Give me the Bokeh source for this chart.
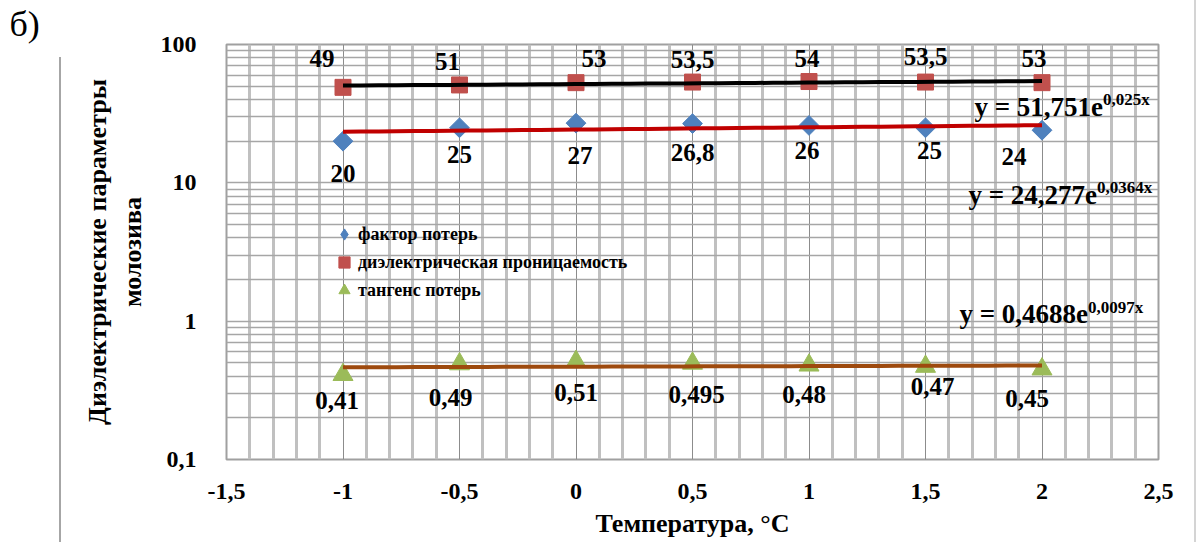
import numpy as np
from bokeh.plotting import figure
from bokeh.models import (ColumnDataSource, FixedTicker, Label, Legend, LegendItem, Range1d)
from bokeh.core.properties import value
from bokeh.embed import file_html
from bokeh.resources import INLINE

# ---------------- data ----------------
temperature = [-1, -0.5, 0, 0.5, 1, 1.5, 2]
loss_factor = [20, 25, 27, 26.8, 26, 25, 24]
permittivity = [49, 51, 53, 53.5, 54, 53.5, 53]
loss_tangent = [0.41, 0.49, 0.51, 0.495, 0.48, 0.47, 0.45]

loss_factor_labels = ["20", "25", "27", "26,8", "26", "25", "24"]
permittivity_labels = ["49", "51", "53", "53,5", "54", "53,5", "53"]
loss_tangent_labels = ["0,41", "0,49", "0,51", "0,495", "0,48", "0,47", "0,45"]

# exponential trend lines y = a * e^(b x)
permittivity_trend = (51.751, 0.025)
loss_factor_trend = (24.277, 0.0364)
loss_tangent_trend = (0.4688, 0.0097)
permittivity_eq = ("y = 51,751e", "0,025x")
loss_factor_eq = ("y = 24,277e", "0,0364x")
loss_tangent_eq = ("y = 0,4688e", "0,0097x")

x_ticks = [-1.5, -1, -0.5, 0, 0.5, 1, 1.5, 2, 2.5]
x_tick_labels = ["-1,5", "-1", "-0,5", "0", "0,5", "1", "1,5", "2", "2,5"]
y_ticks = [0.1, 1, 10, 100]
y_tick_labels = ["0,1", "1", "10", "100"]

series_names = ["фактор потерь", "диэлектрическая проницаемость", "тангенс потерь"]

# label pixel offsets (styling)
perm_dx = [-21, -12, 18, 0, -2, 0, -8]
perm_dy = [-29, -23, -24, -23, -23, -26, -24]
fac_dx = [0, 0, 4, 0, -2, 4, -28]
fac_dy = [32, 27, 32, 29, 25, 23, 26]
tan_dx = [-6, -9, 0, 4, -5, 7, -15]
tan_dy = [26, 33, 31, 31, 29, 20, 29]

FONT = value("Liberation Serif")
BLUE, RED, GREEN = "#4F81BD", "#C0504D", "#9BBB59"

p = figure(width=1197, height=542, x_range=Range1d(-1.5, 2.5), y_range=Range1d(0.1, 100),
           y_axis_type="log", output_backend="svg", toolbar_location=None,
           min_border_left=226, min_border_right=39, min_border_top=44, min_border_bottom=83)
p.background_fill_color = "white"
p.border_fill_color = None
p.outline_line_color = "#A0A0A0"
p.outline_line_width = 2
# page-frame rules of the source document (decorative, via CSS background)
p.styles = {
    "background-image": "linear-gradient(#A6A6A6, #A6A6A6), linear-gradient(#D4D4D4, #D4D4D4)",
    "background-size": "2px 485px, 2px 542px",
    "background-position": "59px 57px, 1194px 0px",
    "background-repeat": "no-repeat",
}

# panel label as title
p.title.text = "б)"
p.title.align = "left"
p.title.offset = -217
p.title.standoff = 1
p.title.text_font = "Liberation Serif"
p.title.text_font_style = "normal"
p.title.text_font_size = "36px"
p.title.text_color = "black"

# grids
x_minor = [round(-1.5 + 0.1 * i, 2) for i in range(41)]
x_minor = [v for v in x_minor if round(v * 2, 6) != round(v * 2)]
p.xgrid.ticker = FixedTicker(ticks=x_ticks, minor_ticks=x_minor)
p.xgrid.grid_line_color = "#8C8C8C"
p.xgrid.grid_line_width = 1
p.xgrid.minor_grid_line_color = "#C0C0C0"
p.xgrid.minor_grid_line_width = 3
y_minor = [m * 10.0 ** e for e in (-1, 0, 1) for m in range(2, 10)]
p.ygrid.ticker = FixedTicker(ticks=y_ticks, minor_ticks=y_minor)
p.ygrid.grid_line_color = "#A6A6A6"
p.ygrid.grid_line_width = 1.5
p.ygrid.minor_grid_line_color = "#A6A6A6"
p.ygrid.minor_grid_line_width = 1.5

# axes
p.xaxis.ticker = FixedTicker(ticks=x_ticks)
p.xaxis.major_label_overrides = dict(zip(x_ticks, x_tick_labels))
p.yaxis.ticker = FixedTicker(ticks=y_ticks)
p.yaxis.major_label_overrides = dict(zip(y_ticks, y_tick_labels))
for ax in (p.xaxis, p.yaxis):
    ax.axis_line_color = None
    ax.major_tick_line_color = None
    ax.minor_tick_line_color = None
    ax.major_label_text_font = "Liberation Serif"
    ax.major_label_text_font_style = "bold"
    ax.major_label_text_font_size = "24px"
    ax.major_label_text_color = "black"
    ax.axis_label_text_font = "Liberation Serif"
    ax.axis_label_text_font_style = "bold"
    ax.axis_label_text_font_size = "26px"
    ax.axis_label_text_color = "black"
p.xaxis.major_label_standoff = 18
p.yaxis.major_label_standoff = 24
p.xaxis.axis_label = "Температура, °C"
p.xaxis.axis_label_standoff = 7
p.yaxis.axis_label = "Диэлектрические параметры\nмолозива"
p.yaxis.axis_label_standoff = 11

# markers
r_fac = p.scatter(temperature, loss_factor, marker="square", angle=np.pi / 4, size=14,
                  fill_color=BLUE, line_color=BLUE)
r_perm = p.scatter(temperature, permittivity, marker="square", size=16,
                   fill_color=RED, line_color=RED)
r_tan = p.scatter(temperature, loss_tangent, marker="triangle", size=20,
                  fill_color=GREEN, line_color=GREEN)
# legend swatch for the diamond series (no data points of its own)
r_fac_key = p.scatter([np.nan], [np.nan], marker="diamond", size=14,
                      fill_color=BLUE, line_color=BLUE)

# trend lines
xt = np.linspace(min(temperature), max(temperature), 40)
for (a, b), col in ((permittivity_trend, "black"), (loss_factor_trend, "#C00000"),
                    (loss_tangent_trend, "#9E4A0E")):
    p.line(xt, a * np.exp(b * xt), line_color=col, line_width=4)

# data labels
def add_labels(ys, texts, dx, dy):
    src = ColumnDataSource(dict(x=temperature, y=ys, t=texts, dx=dx, dy=dy))
    p.text(x="x", y="y", text="t", x_offset="dx", y_offset="dy", source=src,
           text_align="center", text_baseline="middle", text_font=FONT,
           text_font_style="bold", text_font_size="25px", text_color="black")

add_labels(permittivity, permittivity_labels, perm_dx, perm_dy)
add_labels(loss_factor, loss_factor_labels, fac_dx, fac_dy)
add_labels(loss_tangent, loss_tangent_labels, tan_dx, tan_dy)

# pixel -> data helpers for annotation placement
def dx_(px):
    return -1.5 + (px - 226.5) / 233.0

def dy_(py):
    return 10 ** ((459 - py) / 138.33 - 1)

for (main, sup), jx, my, sy in ((permittivity_eq, 1103, 107, 99),
                                (loss_factor_eq, 1097, 195, 187),
                                (loss_tangent_eq, 1088, 314, 307)):
    p.add_layout(Label(x=dx_(jx), y=dy_(my), text=main, text_align="right",
                       text_baseline="middle", text_font="Liberation Serif",
                       text_font_style="bold", text_font_size="27px", text_color="black"))
    p.add_layout(Label(x=dx_(jx), y=dy_(sy), text=sup, text_align="left",
                       text_baseline="middle", text_font="Liberation Serif",
                       text_font_style="bold", text_font_size="17px", text_color="black"))

# legend
legend = Legend(items=[LegendItem(label=series_names[0], renderers=[r_fac_key]),
                       LegendItem(label=series_names[1], renderers=[r_perm]),
                       LegendItem(label=series_names[2], renderers=[r_tan])],
                location=(104, 155), orientation="vertical")
legend.background_fill_alpha = 0
legend.border_line_alpha = 0
legend.padding = 0
legend.margin = 0
legend.spacing = 0
legend.glyph_width = 28
legend.glyph_height = 28
legend.label_standoff = -5
legend.label_text_font = "Liberation Serif"
legend.label_text_font_style = "bold"
legend.label_text_font_size = "18px"
legend.label_text_color = "black"
p.add_layout(legend)

open("out.html", "w").write(file_html(p, INLINE))
